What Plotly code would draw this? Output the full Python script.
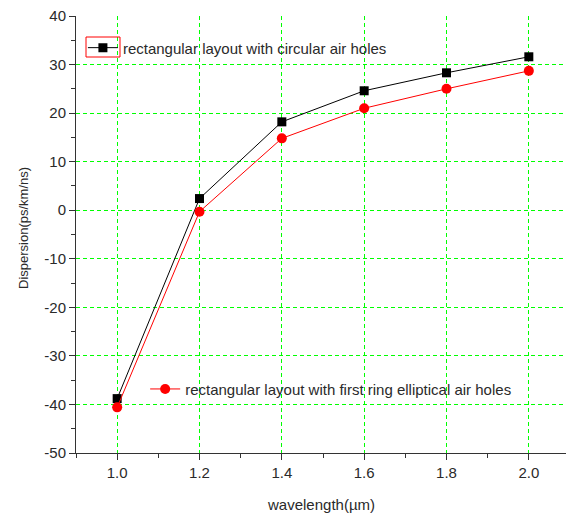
import plotly.graph_objects as go

wavelength = [1.0, 1.2, 1.4, 1.6, 1.8, 2.0]
circular = [-38.8, 2.4, 18.2, 24.6, 28.3, 31.6]
elliptical = [-40.6, -0.3, 14.8, 21.0, 25.0, 28.7]

x_ticks = [1.0, 1.2, 1.4, 1.6, 1.8, 2.0]
y_ticks = [40, 30, 20, 10, 0, -10, -20, -30, -40, -50]

name1 = "rectangular layout with circular air holes"
name2 = "rectangular layout with first ring elliptical air holes"

fig = go.Figure()
fig.add_trace(go.Scatter(
    x=wavelength, y=circular, mode="lines+markers", name=name1,
    line=dict(color="black", width=1),
    marker=dict(symbol="square", size=9, color="black"),
    legend="legend",
))
fig.add_trace(go.Scatter(
    x=wavelength, y=elliptical, mode="lines+markers", name=name2,
    line=dict(color="red", width=1),
    marker=dict(symbol="circle", size=10, color="red"),
    legend="legend2",
))

font_family = "Liberation Sans, Arial, sans-serif"
txt = "#2a2a2a"
grid = dict(showgrid=True, gridcolor="#00ff00", griddash="4px,3px", gridwidth=1)

# the page body has an 8px margin, so the figure is sized/offset accordingly
fig.update_layout(
    width=566, height=508,
    margin=dict(l=68, r=4, t=8, b=63, autoexpand=False),
    paper_bgcolor="white", plot_bgcolor="white",
    font=dict(family=font_family, size=15, color=txt),
    xaxis=dict(
        range=[0.9, 2.1], tickvals=x_ticks, ticktext=[f"{v:.1f}" for v in x_ticks],
        ticks="outside", ticklen=6, tickcolor="#333", tickwidth=1,
        minor=dict(dtick=0.1, tick0=0.9, ticks="outside", ticklen=4, tickcolor="#333", showgrid=False),
        showline=True, linecolor="#333", linewidth=1, zeroline=False, automargin=False,
        tickfont=dict(size=15, color=txt), ticklabeloverflow="allow",
        **grid,
    ),
    yaxis=dict(
        range=[-50, 40], tickvals=y_ticks, ticktext=[str(v) for v in y_ticks],
        ticks="outside", ticklen=6, tickcolor="#333", tickwidth=1,
        minor=dict(dtick=5, tick0=-50, ticks="outside", ticklen=4, tickcolor="#333", showgrid=False),
        showline=True, linecolor="#333", linewidth=1, zeroline=False, automargin=False,
        tickfont=dict(size=15, color=txt), ticklabeloverflow="allow",
        **grid,
    ),
    legend=dict(x=0.014, y=0.927, xanchor="left", yanchor="middle",
                bgcolor="rgba(0,0,0,0)", font=dict(size=15, color=txt)),
    legend2=dict(x=0.14, y=0.146, xanchor="left", yanchor="middle",
                 bgcolor="rgba(0,0,0,0)", font=dict(size=15, color=txt)),
    showlegend=True,
)

# axis titles
fig.add_annotation(text="wavelength(µm)", xref="paper", yref="paper",
                   x=(321 - 76) / 494, y=(453 - 504) / 437, xanchor="center", yanchor="middle",
                   showarrow=False, font=dict(size=15, color=txt))
fig.add_annotation(text="Dispersion(ps/km/ns)", xref="paper", yref="paper",
                   x=(23 - 76) / 494, y=(453 - 228) / 437, xanchor="center", yanchor="middle",
                   textangle=-90, showarrow=False, font=dict(size=13, color=txt))

# red frame around first legend sample
fig.add_shape(type="rect", xref="paper", yref="paper",
              x0=(86 - 76) / 494, x1=(120 - 76) / 494, y0=(453 - 57) / 437, y1=(453 - 37) / 437,
              line=dict(color="red", width=1), fillcolor="rgba(0,0,0,0)")

fig.write_html("out.html")
